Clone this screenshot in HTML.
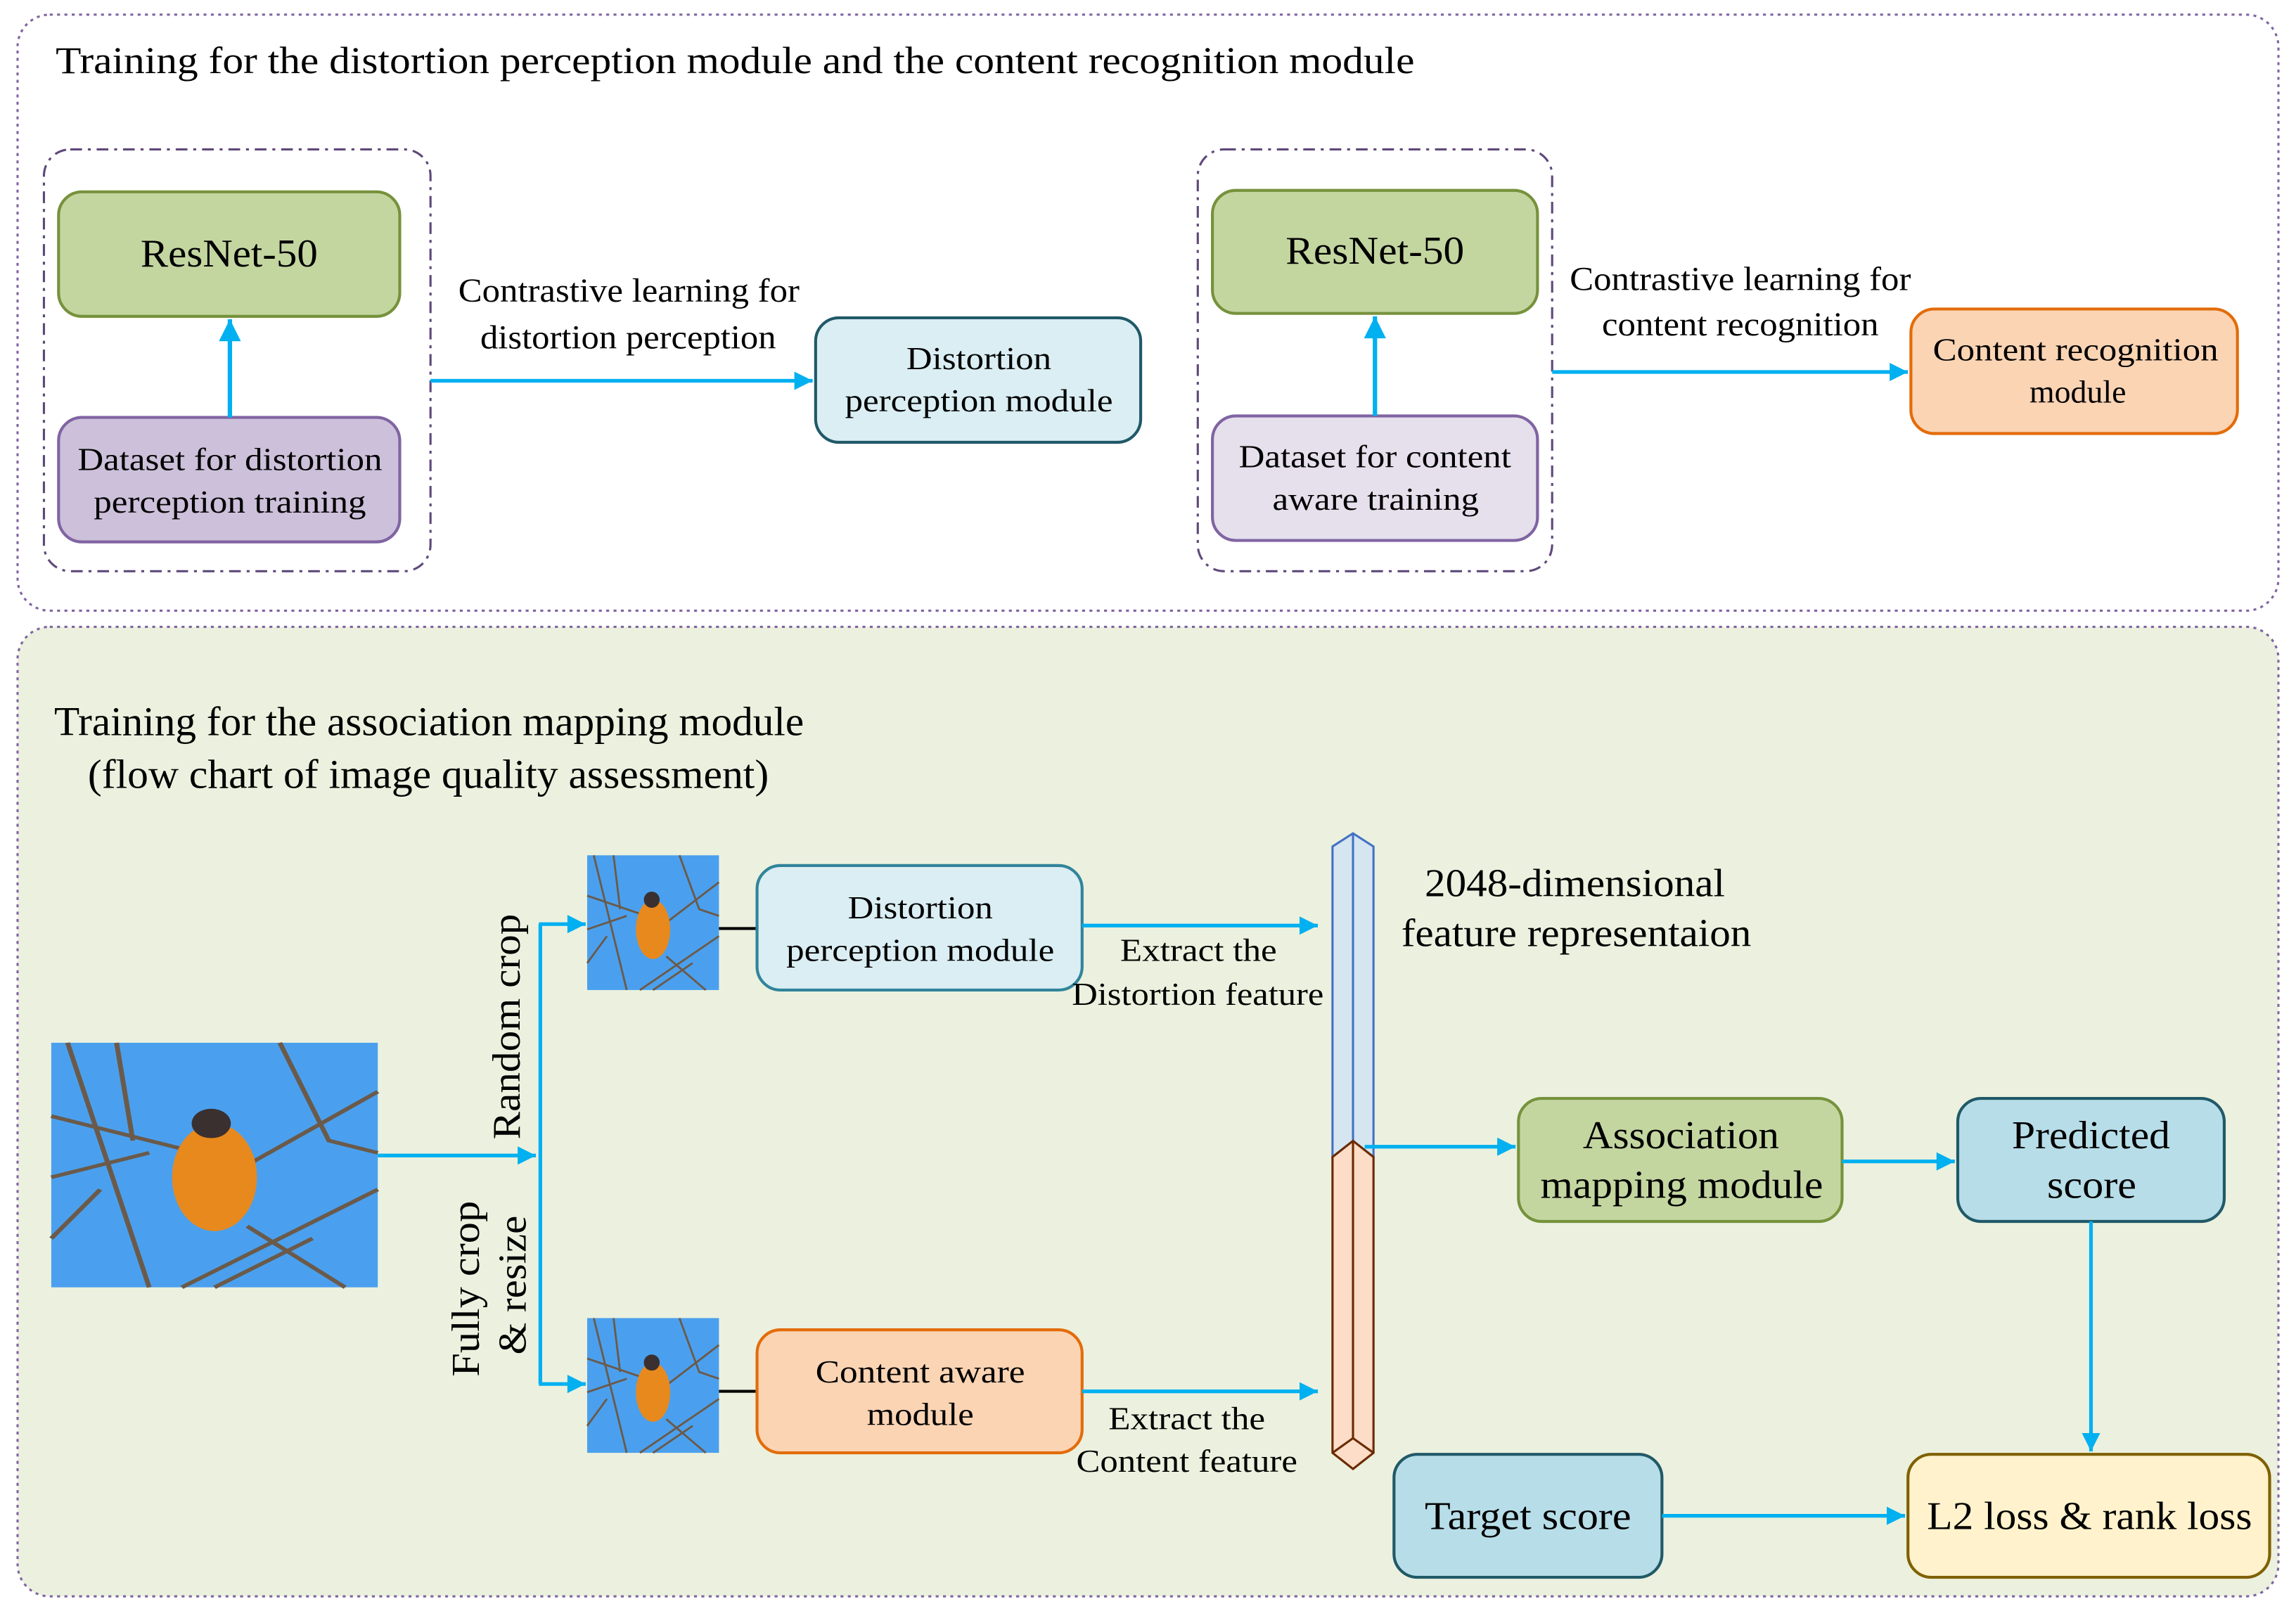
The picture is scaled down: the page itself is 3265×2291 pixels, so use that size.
<!DOCTYPE html>
<html><head><meta charset="utf-8"><style>html,body{margin:0;padding:0;background:#fff}svg{display:block}text{font-family:"Liberation Serif","Times New Roman",serif;fill:#000}</style></head><body>
<svg width="3265" height="2291" viewBox="0 0 1568 1100" preserveAspectRatio="none" xmlns="http://www.w3.org/2000/svg">
<defs>
<marker id="a" viewBox="0 0 10 10" refX="10" refY="5" markerWidth="7" markerHeight="5" orient="auto" markerUnits="strokeWidth"><path d="M0,0L10,5L0,10z" fill="#00b0f0"/></marker>
<g id="bird">
<rect x="0" y="0" width="100" height="100" fill="#4aa0ee"/>
<g stroke="#6b5a4a" stroke-width="1.5" fill="none">
<path d="M5,0 L30,100 M0,30 L60,50 L100,20 M40,100 L100,60 M70,0 L85,40 L100,45 M15,60 L0,80 M90,100 L60,75 M20,0 L25,40 M50,100 L80,80 M0,55 L30,45"/>
</g>
<ellipse cx="50" cy="55" rx="13" ry="22" fill="#e8891d"/>
<circle cx="49" cy="33" r="6" fill="#3a3030"/>
</g>
</defs>
<rect width="1568" height="1100" fill="#fff"/>
<rect x="12" y="10" width="1544" height="407" rx="22" fill="#fff" stroke="#8064a2" stroke-width="1.5" stroke-dasharray="2,3"/>
<text x="38" y="50" font-size="26" textLength="928" lengthAdjust="spacingAndGlyphs">Training for the distortion perception module and the content recognition module</text>
<rect x="30" y="102" width="264" height="288" rx="18" fill="none" stroke="#5f497a" stroke-width="1.5" stroke-dasharray="8,4,2,4"/>
<rect x="818" y="102" width="242" height="288" rx="18" fill="none" stroke="#5f497a" stroke-width="1.5" stroke-dasharray="8,4,2,4"/>
<rect x="40" y="131" width="233" height="85" rx="16" fill="#c4d6a0" stroke="#76923c" stroke-width="2"/>
<text x="96" y="182" font-size="27" textLength="121" lengthAdjust="spacingAndGlyphs">ResNet-50</text>
<rect x="40" y="285" width="233" height="85" rx="16" fill="#ccc0da" stroke="#8064a2" stroke-width="2"/>
<text x="53" y="321" font-size="22" textLength="208" lengthAdjust="spacingAndGlyphs">Dataset for distortion</text>
<text x="64" y="350" font-size="22" textLength="186" lengthAdjust="spacingAndGlyphs">perception training</text>
<line x1="157" y1="285" x2="157" y2="218" stroke="#00b0f0" stroke-width="3" marker-end="url(#a)"/>
<line x1="294" y1="260" x2="555" y2="260" stroke="#00b0f0" stroke-width="2.5" marker-end="url(#a)"/>
<text x="313" y="206" font-size="23" textLength="233" lengthAdjust="spacingAndGlyphs">Contrastive learning for</text>
<text x="328" y="238" font-size="23" textLength="202" lengthAdjust="spacingAndGlyphs">distortion perception</text>
<rect x="557" y="217" width="222" height="85" rx="16" fill="#daeef3" stroke="#215968" stroke-width="2"/>
<text x="619" y="252" font-size="22" textLength="99" lengthAdjust="spacingAndGlyphs">Distortion</text>
<text x="577" y="281" font-size="22" textLength="183" lengthAdjust="spacingAndGlyphs">perception module</text>
<rect x="828" y="130" width="222" height="84" rx="16" fill="#c4d6a0" stroke="#76923c" stroke-width="2"/>
<text x="878" y="180" font-size="27" textLength="122" lengthAdjust="spacingAndGlyphs">ResNet-50</text>
<rect x="828" y="284" width="222" height="85" rx="16" fill="#e5e0ec" stroke="#8064a2" stroke-width="2"/>
<text x="846" y="319" font-size="22" textLength="186" lengthAdjust="spacingAndGlyphs">Dataset for content</text>
<text x="869" y="348" font-size="22" textLength="141" lengthAdjust="spacingAndGlyphs">aware training</text>
<line x1="939" y1="284" x2="939" y2="216" stroke="#00b0f0" stroke-width="3" marker-end="url(#a)"/>
<line x1="1060" y1="254" x2="1303" y2="254" stroke="#00b0f0" stroke-width="2.5" marker-end="url(#a)"/>
<text x="1072" y="198" font-size="23" textLength="233" lengthAdjust="spacingAndGlyphs">Contrastive learning for</text>
<text x="1094" y="229" font-size="23" textLength="189" lengthAdjust="spacingAndGlyphs">content recognition</text>
<rect x="1305" y="211" width="223" height="85" rx="16" fill="#fbd4b4" stroke="#e36c09" stroke-width="2"/>
<text x="1320" y="246" font-size="22" textLength="195" lengthAdjust="spacingAndGlyphs">Content recognition</text>
<text x="1386" y="275" font-size="22" textLength="66" lengthAdjust="spacingAndGlyphs">module</text>
<rect x="12" y="428" width="1544" height="662" rx="22" fill="#ebf1de" stroke="#8064a2" stroke-width="1.5" stroke-dasharray="2,3"/>
<text x="37" y="502" font-size="28" textLength="512" lengthAdjust="spacingAndGlyphs">Training for the association mapping module</text>
<text x="60" y="538" font-size="28" textLength="465" lengthAdjust="spacingAndGlyphs">(flow chart of image quality assessment)</text>
<use href="#bird" transform="translate(35,712) scale(2.23,1.67)"/>
<use href="#bird" transform="translate(401,584) scale(0.9,0.92)"/>
<use href="#bird" transform="translate(401,900) scale(0.9,0.92)"/>
<line x1="258" y1="789" x2="366" y2="789" stroke="#00b0f0" stroke-width="2.5" marker-end="url(#a)"/>
<path d="M369,631 L369,945" stroke="#00b0f0" stroke-width="2.5" fill="none"/>
<line x1="368" y1="631" x2="400" y2="631" stroke="#00b0f0" stroke-width="2.5" marker-end="url(#a)"/>
<line x1="368" y1="945" x2="400" y2="945" stroke="#00b0f0" stroke-width="2.5" marker-end="url(#a)"/>
<text transform="translate(355,778) rotate(-90)" font-size="27" textLength="154" lengthAdjust="spacingAndGlyphs">Random crop</text>
<text transform="translate(327,940) rotate(-90)" font-size="27" textLength="120" lengthAdjust="spacingAndGlyphs">Fully crop</text>
<text transform="translate(359,925) rotate(-90)" font-size="27" textLength="95" lengthAdjust="spacingAndGlyphs">&amp; resize</text>
<line x1="491" y1="634" x2="517" y2="634" stroke="#000" stroke-width="2"/>
<line x1="491" y1="950" x2="517" y2="950" stroke="#000" stroke-width="2"/>
<rect x="517" y="591" width="222" height="85" rx="16" fill="#daeef3" stroke="#31849b" stroke-width="2"/>
<text x="579" y="627" font-size="22" textLength="99" lengthAdjust="spacingAndGlyphs">Distortion</text>
<text x="537" y="656" font-size="22" textLength="183" lengthAdjust="spacingAndGlyphs">perception module</text>
<rect x="517" y="908" width="222" height="84" rx="16" fill="#fbd4b4" stroke="#e36c09" stroke-width="2"/>
<text x="557" y="944" font-size="22" textLength="143" lengthAdjust="spacingAndGlyphs">Content aware</text>
<text x="592" y="973" font-size="22" textLength="73" lengthAdjust="spacingAndGlyphs">module</text>
<line x1="739" y1="632" x2="900" y2="632" stroke="#00b0f0" stroke-width="2.5" marker-end="url(#a)"/>
<text x="765" y="656" font-size="22" textLength="107" lengthAdjust="spacingAndGlyphs">Extract the</text>
<text x="732" y="686" font-size="22" textLength="172" lengthAdjust="spacingAndGlyphs">Distortion feature</text>
<line x1="739" y1="950" x2="900" y2="950" stroke="#00b0f0" stroke-width="2.5" marker-end="url(#a)"/>
<text x="757" y="976" font-size="22" textLength="107" lengthAdjust="spacingAndGlyphs">Extract the</text>
<text x="735" y="1005" font-size="22" textLength="151" lengthAdjust="spacingAndGlyphs">Content feature</text>
<path d="M910,578 L924,569 L938,578 L938,790 L924,779 L910,790 Z" fill="#d6e6f0" stroke="#4472c4" stroke-width="1.5"/>
<line x1="924" y1="569" x2="924" y2="779" stroke="#4472c4" stroke-width="1.5"/>
<path d="M910,790 L924,779 L938,790 L938,992 L924,1003 L910,992 Z" fill="#fdddc8" stroke="#6b2a00" stroke-width="1.5"/>
<line x1="924" y1="779" x2="924" y2="982" stroke="#6b2a00" stroke-width="1.5"/>
<path d="M910,992 L924,982 L938,992" fill="none" stroke="#6b2a00" stroke-width="1.5"/>
<text x="973" y="612" font-size="27" textLength="205" lengthAdjust="spacingAndGlyphs">2048-dimensional</text>
<text x="957" y="646" font-size="27" textLength="239" lengthAdjust="spacingAndGlyphs">feature representaion</text>
<line x1="932" y1="783" x2="1035" y2="783" stroke="#00b0f0" stroke-width="2.5" marker-end="url(#a)"/>
<rect x="1037" y="750" width="221" height="84" rx="16" fill="#c4d6a0" stroke="#76923c" stroke-width="2"/>
<text x="1081" y="784" font-size="27" textLength="134" lengthAdjust="spacingAndGlyphs">Association</text>
<text x="1052" y="818" font-size="27" textLength="193" lengthAdjust="spacingAndGlyphs">mapping module</text>
<line x1="1258" y1="793" x2="1335" y2="793" stroke="#00b0f0" stroke-width="2.5" marker-end="url(#a)"/>
<rect x="1337" y="750" width="182" height="84" rx="16" fill="#b7dde8" stroke="#215968" stroke-width="2"/>
<text x="1374" y="784" font-size="27" textLength="108" lengthAdjust="spacingAndGlyphs">Predicted</text>
<text x="1398" y="818" font-size="27" textLength="61" lengthAdjust="spacingAndGlyphs">score</text>
<line x1="1428" y1="834" x2="1428" y2="991" stroke="#00b0f0" stroke-width="2.5" marker-end="url(#a)"/>
<rect x="952" y="993" width="183" height="84" rx="16" fill="#b7dde8" stroke="#215968" stroke-width="2"/>
<text x="973" y="1044" font-size="27" textLength="141" lengthAdjust="spacingAndGlyphs">Target score</text>
<line x1="1135" y1="1035" x2="1301" y2="1035" stroke="#00b0f0" stroke-width="2.5" marker-end="url(#a)"/>
<rect x="1303" y="993" width="247" height="84" rx="16" fill="#fff2cc" stroke="#7f6000" stroke-width="2"/>
<text x="1316" y="1044" font-size="27" textLength="222" lengthAdjust="spacingAndGlyphs">L2 loss &amp; rank loss</text>
</svg>
</body></html>
